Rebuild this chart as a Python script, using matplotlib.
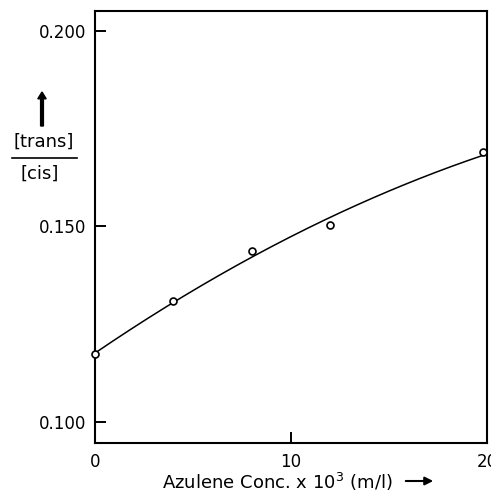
import numpy as np
import matplotlib.pyplot as plt
from matplotlib.lines import Line2D

# measured points
conc = [0, 4, 8, 12, 19.8]
ratio = [0.1173, 0.1309, 0.1436, 0.1503, 0.1691]

# smooth curve
curve_x = [0, 4, 8, 12, 16, 20]
curve_y = [0.1173, 0.1309, 0.1426, 0.1520, 0.1606, 0.1689]

xticks = [0, 10, 20]
yticks = [0.100, 0.150, 0.200]
ytick_labels = ['0.100', '0.150', '0.200']

fig = plt.figure(figsize=(4.91, 4.92), dpi=100)
ax = fig.add_axes([0.1935, 0.0996, 0.7984, 0.878])

# smooth line through the curve readings
coef = np.polyfit(curve_x, curve_y, 2)
xs = np.linspace(curve_x[0], curve_x[-1], 200)
ax.plot(xs, np.polyval(coef, xs), color='black', lw=1.1)
ax.plot(conc, ratio, 'o', mfc='white', mec='black', ms=5, mew=1.2, clip_on=False, zorder=3)

ax.set_xlim(0, 20)
ax.set_ylim(0.0946, 0.2051)
ax.set_xticks(xticks)
ax.set_xticklabels([str(v) for v in xticks])
ax.set_yticks(yticks)
ax.set_yticklabels(ytick_labels)
ax.tick_params(direction='in', length=8, width=1.4, labelsize=12, pad=7)
ax.tick_params(axis='y', pad=6)
for s in ax.spines.values():
    s.set_linewidth(1.5)

# y label: up arrow above [trans]/[cis]
fig.patches.append(plt.Arrow(42, 366, 0, 34, width=14, color='black', transform=None))
fig.text(44 / 491, 1 - 142 / 492, '[trans]', ha='center', va='center', fontsize=13)
fig.lines.append(Line2D([12 / 491, 77 / 491], [1 - 158 / 492, 1 - 158 / 492],
                        transform=fig.transFigure, color='black', lw=1.2))
fig.text(40 / 491, 1 - 174 / 492, '[cis]', ha='center', va='center', fontsize=13)

# x label with arrow
fig.text(162 / 491, 1 - 482 / 492, 'Azulene Conc. x 10$^3$ (m/l)', ha='left', va='center', fontsize=13)
ax.annotate('', xy=(436 / 491, 1 - 481 / 492), xytext=(403 / 491, 1 - 481 / 492),
            xycoords='figure fraction', textcoords='figure fraction',
            arrowprops=dict(arrowstyle='-|>', color='black', lw=1.5, mutation_scale=12))

fig.savefig('out.png', dpi=100)
